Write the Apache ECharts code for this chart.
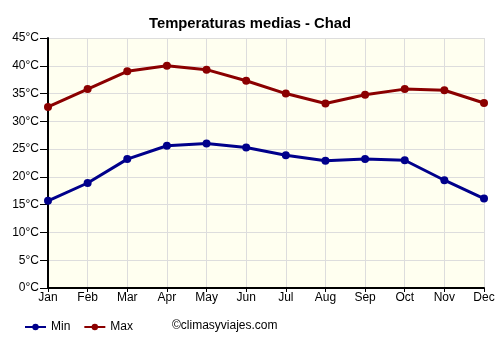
<!DOCTYPE html>
<html><head><meta charset="utf-8">
<script src="https://cdn.jsdelivr.net/npm/echarts@6/dist/echarts.min.js"></script>
<style>html,body{margin:0;padding:0;background:#fff}#c{width:500px;height:350px}</style>
</head><body><div id="c"></div>
<script>
const months = ['Jan','Feb','Mar','Apr','May','Jun','Jul','Aug','Sep','Oct','Nov','Dec'];
const minTemp = [15.7, 18.9, 23.2, 25.6, 26.0, 25.3, 23.9, 22.9, 23.2, 23.0, 19.4, 16.1];
const maxTemp = [32.6, 35.8, 39.0, 40.0, 39.3, 37.3, 35.0, 33.2, 34.8, 35.8, 35.6, 33.3];
const chart = echarts.init(document.getElementById('c'), null, {renderer:'canvas'});
const font = 'Liberation Sans, Arial, sans-serif';
chart.setOption({
  animation:false,
  backgroundColor:'#ffffff',
  title:{text:'Temperaturas medias - Chad',left:'center',top:11,textStyle:{fontFamily:font,fontSize:14.8,fontWeight:'bold',color:'#000'}},
  grid:{left:48,right:16,top:38,bottom:62,show:true,backgroundColor:'#fffff0',borderWidth:0},
  legend:{bottom:12,left:19,itemGap:13,itemWidth:21,itemHeight:8,textStyle:{fontFamily:font,fontSize:12,color:'#000'},data:['Min','Max']},
  graphic:[{type:'text',left:172,top:320,style:{text:'©climasyviajes.com',font:'12px '+font,fill:'#000'}}],
  xAxis:{type:'category',data:months,boundaryGap:false,
    axisLine:{lineStyle:{color:'#000',width:2}},
    axisTick:{show:true,alignWithLabel:true,length:4,lineStyle:{color:'#000'}},
    axisLabel:{fontFamily:font,fontSize:12,color:'#000',margin:4},
    splitLine:{show:true,lineStyle:{color:'#dddddd',width:1}}},
  yAxis:{type:'value',min:0,max:45,interval:5,
    axisLine:{show:true,lineStyle:{color:'#000',width:2}},
    axisTick:{show:true,length:8,lineStyle:{color:'#000'}},
    axisLabel:{fontFamily:font,fontSize:12,color:'#000',formatter:'{value}°C',margin:9},
    splitLine:{show:true,lineStyle:{color:'#dddddd',width:1}}},
  series:[
    {name:'Min',type:'line',data:minTemp,symbol:'circle',symbolSize:8,color:'#00008b',lineStyle:{width:3,color:'#00008b'},itemStyle:{color:'#00008b'}},
    {name:'Max',type:'line',data:maxTemp,symbol:'circle',symbolSize:8,color:'#8b0000',lineStyle:{width:3,color:'#8b0000'},itemStyle:{color:'#8b0000'}}
  ]
});
</script></body></html>
